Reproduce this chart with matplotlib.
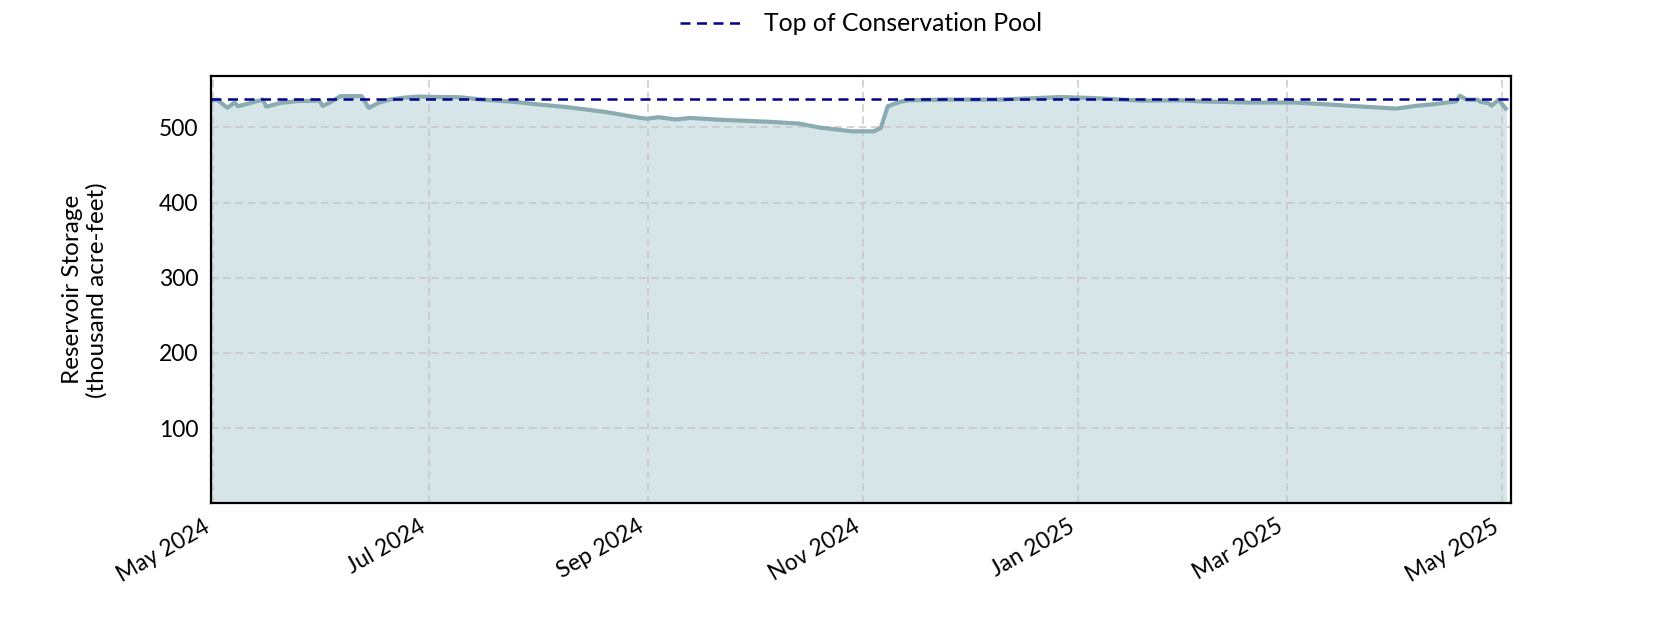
import numpy as np
import pandas as pd
import matplotlib
matplotlib.use("Agg")
from matplotlib import pyplot as plt
import matplotlib.dates as mdates

plt.rcParams['font.family'] = ['Lato', 'DejaVu Sans']

# storage readings (thousand acre-feet)
dates = ["2024-04-30", "2024-05-01", "2024-05-02", "2024-05-05", "2024-05-07",
         "2024-05-08", "2024-05-12", "2024-05-15", "2024-05-16", "2024-05-20",
         "2024-05-25", "2024-05-31", "2024-06-01", "2024-06-03", "2024-06-06",
         "2024-06-12", "2024-06-14", "2024-06-17", "2024-06-20", "2024-06-24",
         "2024-06-28", "2024-07-02", "2024-07-10", "2024-07-16", "2024-07-25",
         "2024-08-02", "2024-08-09", "2024-08-20", "2024-08-30", "2024-09-01",
         "2024-09-04", "2024-09-09", "2024-09-13", "2024-09-22", "2024-10-05",
         "2024-10-14", "2024-10-20", "2024-10-29", "2024-11-04", "2024-11-06",
         "2024-11-08", "2024-11-10", "2024-11-12", "2024-11-14", "2024-11-25",
         "2024-12-10", "2024-12-27", "2025-01-05", "2025-01-19", "2025-01-30",
         "2025-02-04", "2025-02-18", "2025-03-03", "2025-03-11", "2025-03-21",
         "2025-04-01", "2025-04-07", "2025-04-12", "2025-04-18", "2025-04-19",
         "2025-04-21", "2025-04-24", "2025-04-25", "2025-04-27", "2025-04-28",
         "2025-04-30", "2025-05-02"]
storage = [533, 536, 537, 526, 533,
           528, 533, 537, 527.5, 532.5,
           535, 535.5, 528.5, 533, 541.5,
           541.5, 526, 533, 537, 539.5,
           541, 540.5, 540, 537, 534,
           530, 527, 520.5, 512.5, 511.5,
           513.5, 510.5, 512.5, 510, 507.5,
           505, 499.5, 494.7, 494.7, 499,
           528, 531.5, 534.5, 536, 537,
           537, 540.3, 539, 535.5, 536,
           534.6, 533, 533, 531, 528,
           525, 528.8, 531, 534.6, 542,
           536.8, 536.8, 533.7, 532.4, 528.8,
           536.8, 525]
top_of_conservation = 538

dates = pd.to_datetime(dates)

fig = plt.figure(figsize=(16.8, 6.3), dpi=100)
ax = fig.add_axes([0.1254, 0.2011, 0.774, 0.6779])

ax.fill_between(dates, 0, storage, color='#d6e5e8', zorder=1)
ax.plot(dates, storage, color='#8aabb0', lw=3.0, zorder=3)
ax.axhline(top_of_conservation, color='#00008b', lw=1.8, ls=(0, (4, 2.6)),
           zorder=4, label='Top of Conservation Pool')

ax.set_ylim(0, 568)
ax.set_xlim(pd.Timestamp("2024-04-30 06:00"), pd.Timestamp("2025-05-03 12:00"))
ax.set_yticks([100, 200, 300, 400, 500])
ax.xaxis.set_major_locator(mdates.MonthLocator(bymonth=[1, 3, 5, 7, 9, 11]))
ax.xaxis.set_major_formatter(mdates.DateFormatter('%b %Y'))

ax.grid(True, color='#c8c8c8', ls=(0, (5, 3)), lw=1.1, zorder=2)
ax.set_axisbelow(False)
ax.tick_params(length=0, labelsize=16.5, pad=9)
for lbl in ax.get_xticklabels():
    lbl.set_rotation(30)
    lbl.set_ha('right')
for s in ax.spines.values():
    s.set_linewidth(1.6)
    s.set_zorder(5)

ax.set_ylabel("Reservoir Storage\n(thousand acre-feet)", fontsize=17.5, linespacing=1.2)
ax.yaxis.set_label_coords(-0.079, 0.5)

fig.legend(loc='center', bbox_to_anchor=(0.5125, 0.962), frameon=False,
           fontsize=17.8, handlelength=2.6)

fig.savefig("out.png", dpi=100)
